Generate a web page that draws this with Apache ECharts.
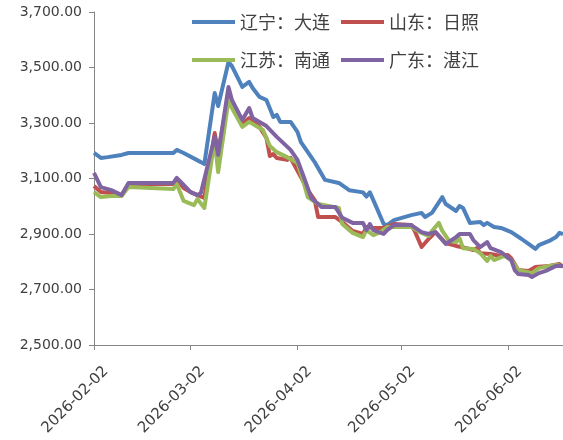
<!DOCTYPE html>
<html>
<head>
<meta charset="utf-8">
<script src="https://cdn.jsdelivr.net/npm/echarts@6/dist/echarts.min.js"></script>
<style>html,body{margin:0;padding:0;background:#fff;}#c{width:563px;height:440px;}</style>
</head>
<body>
<div id="c"></div>
<script>
const startDate = '2026-02-02';
const endDate = '2026-06-18';
const seriesNames = ['辽宁：大连', '山东：日照', '江苏：南通', '广东：湛江'];
const yTicks = [2500, 2700, 2900, 3100, 3300, 3500, 3700];

const dalian = [['2026-02-02',3192],['2026-02-04',3174],['2026-02-06',3177],['2026-02-10',3185],['2026-02-12',3192],['2026-02-25',3192],['2026-02-26',3203],['2026-02-28',3192],['2026-03-05',3159],['2026-03-06',3152],['2026-03-09',3408],['2026-03-10',3361],['2026-03-13',3520],['2026-03-14',3505],['2026-03-17',3430],['2026-03-19',3448],['2026-03-20',3426],['2026-03-22',3394],['2026-03-24',3383],['2026-03-26',3322],['2026-03-27',3329],['2026-03-28',3304],['2026-03-31',3304],['2026-04-02',3268],['2026-04-03',3231],['2026-04-07',3159],['2026-04-10',3095],['2026-04-14',3084],['2026-04-17',3058],['2026-04-21',3050],['2026-04-22',3035],['2026-04-23',3050],['2026-04-24',3022],['2026-04-27',2936],['2026-04-28',2932],['2026-04-30',2950],['2026-05-05',2968],['2026-05-08',2976],['2026-05-09',2961],['2026-05-11',2976],['2026-05-14',3033],['2026-05-15',3008],['2026-05-18',2983],['2026-05-19',3001],['2026-05-20',2994],['2026-05-22',2940],['2026-05-25',2943],['2026-05-26',2932],['2026-05-27',2940],['2026-05-29',2925],['2026-05-31',2922],['2026-06-03',2907],['2026-06-06',2882],['2026-06-08',2864],['2026-06-10',2846],['2026-06-11',2860],['2026-06-14',2875],['2026-06-16',2889],['2026-06-17',2904],['2026-06-18',2900]];

const rizhao = [['2026-02-02',3073],['2026-02-04',3051],['2026-02-07',3048],['2026-02-10',3040],['2026-02-12',3080],['2026-02-25',3080],['2026-02-26',3098],['2026-02-28',3066],['2026-03-02',3051],['2026-03-04',3040],['2026-03-06',3030],['2026-03-09',3264],['2026-03-10',3195],['2026-03-13',3401],['2026-03-14',3365],['2026-03-17',3296],['2026-03-19',3318],['2026-03-22',3286],['2026-03-24',3246],['2026-03-25',3181],['2026-03-26',3188],['2026-03-27',3174],['2026-03-30',3167],['2026-03-31',3174],['2026-04-03',3105],['2026-04-05',3058],['2026-04-07',3022],['2026-04-08',2961],['2026-04-13',2961],['2026-04-15',2943],['2026-04-18',2911],['2026-04-21',2900],['2026-04-22',2925],['2026-04-24',2922],['2026-04-27',2922],['2026-04-30',2936],['2026-05-05',2932],['2026-05-06',2911],['2026-05-08',2853],['2026-05-10',2882],['2026-05-12',2907],['2026-05-15',2867],['2026-05-18',2857],['2026-05-21',2849],['2026-05-23',2842],['2026-05-24',2849],['2026-05-25',2831],['2026-05-28',2828],['2026-05-31',2821],['2026-06-02',2824],['2026-06-03',2813],['2026-06-05',2770],['2026-06-08',2767],['2026-06-10',2781],['2026-06-14',2785],['2026-06-17',2792],['2026-06-18',2781]];

const nantong = [['2026-02-02',3051],['2026-02-04',3033],['2026-02-07',3037],['2026-02-10',3037],['2026-02-12',3069],['2026-02-25',3062],['2026-02-26',3080],['2026-02-28',3019],['2026-03-03',3004],['2026-03-04',3026],['2026-03-06',2994],['2026-03-09',3239],['2026-03-10',3123],['2026-03-13',3383],['2026-03-14',3354],['2026-03-17',3286],['2026-03-19',3304],['2026-03-23',3275],['2026-03-25',3217],['2026-03-27',3195],['2026-03-30',3177],['2026-04-02',3156],['2026-04-04',3077],['2026-04-05',3033],['2026-04-08',3008],['2026-04-14',2994],['2026-04-15',2936],['2026-04-18',2904],['2026-04-21',2889],['2026-04-22',2914],['2026-04-24',2896],['2026-04-26',2907],['2026-04-28',2925],['2026-05-05',2925],['2026-05-08',2904],['2026-05-10',2893],['2026-05-11',2911],['2026-05-13',2940],['2026-05-14',2911],['2026-05-16',2875],['2026-05-18',2871],['2026-05-19',2885],['2026-05-20',2849],['2026-05-23',2846],['2026-05-25',2831],['2026-05-27',2803],['2026-05-28',2821],['2026-05-29',2806],['2026-06-01',2821],['2026-06-03',2806],['2026-06-05',2770],['2026-06-09',2759],['2026-06-11',2777],['2026-06-14',2785],['2026-06-16',2788],['2026-06-18',2785]];

const zhanjiang = [['2026-02-02',3120],['2026-02-04',3069],['2026-02-07',3058],['2026-02-10',3040],['2026-02-12',3084],['2026-02-25',3084],['2026-02-26',3102],['2026-02-28',3077],['2026-03-02',3051],['2026-03-04',3040],['2026-03-05',3048],['2026-03-09',3250],['2026-03-10',3185],['2026-03-13',3430],['2026-03-14',3383],['2026-03-17',3311],['2026-03-19',3354],['2026-03-20',3318],['2026-03-24',3289],['2026-03-27',3250],['2026-03-31',3203],['2026-04-02',3167],['2026-04-04',3100],['2026-04-06',3030],['2026-04-09',2997],['2026-04-13',2997],['2026-04-15',2958],['2026-04-18',2940],['2026-04-21',2940],['2026-04-22',2914],['2026-04-23',2936],['2026-04-24',2914],['2026-04-27',2900],['2026-04-28',2914],['2026-04-30',2932],['2026-05-05',2932],['2026-05-08',2907],['2026-05-10',2900],['2026-05-12',2907],['2026-05-15',2864],['2026-05-18',2889],['2026-05-19',2900],['2026-05-22',2900],['2026-05-23',2878],['2026-05-25',2853],['2026-05-27',2871],['2026-05-28',2849],['2026-05-31',2835],['2026-06-03',2806],['2026-06-04',2770],['2026-06-05',2756],['2026-06-08',2752],['2026-06-09',2745],['2026-06-11',2759],['2026-06-13',2767],['2026-06-16',2785],['2026-06-18',2785]];

const colors = ['#4F81BD', '#C0504D', '#9BBB59', '#8064A2'];

// build daily category list
const categories = [];
(function(){
  const d = new Date(startDate + 'T00:00:00Z');
  const e = new Date(endDate + 'T00:00:00Z');
  while (d <= e) {
    categories.push(d.toISOString().slice(0,10));
    d.setUTCDate(d.getUTCDate() + 1);
  }
})();

const isMonthTick = (i, v) => v.slice(8) === '02';
const allData = [dalian, rizhao, nantong, zhanjiang];

const chart = echarts.init(document.getElementById('c'), null, {renderer: 'canvas'});
const legendText = {fontFamily: '"Noto Sans CJK SC"', fontSize: 18, color: '#404040'};
chart.setOption({
  animation: false,
  backgroundColor: '#fff',
  color: colors,
  grid: {left: 94, right: 0, top: 12, bottom: 95, containLabel: false, outerBoundsMode: 'none'},
  legend: [
    {data: [seriesNames[0], seriesNames[1]], left: 192, top: 13, itemGap: 11, itemWidth: 43, itemHeight: 4, icon: 'rect', textStyle: legendText, padding: 0},
    {data: [seriesNames[2], seriesNames[3]], left: 192, top: 51, itemGap: 11, itemWidth: 43, itemHeight: 4, icon: 'rect', textStyle: legendText, padding: 0}
  ],
  xAxis: {
    type: 'category',
    data: categories,
    boundaryGap: false,
    axisLine: {lineStyle: {color: '#868686', width: 1}},
    axisTick: {show: true, interval: isMonthTick, length: 5, lineStyle: {color: '#868686'}},
    axisLabel: {interval: isMonthTick, rotate: 45, margin: 12, lineHeight: 34,
      formatter: v => '\n' + v,
      fontFamily: 'DejaVu Sans', fontSize: 15, color: '#404040'},
    splitLine: {show: false}
  },
  yAxis: {
    type: 'value',
    min: yTicks[0], max: yTicks[yTicks.length-1], interval: 200,
    axisLine: {show: true, lineStyle: {color: '#868686', width: 1}},
    axisTick: {show: true, length: 5, lineStyle: {color: '#868686'}},
    axisLabel: {margin: 12, fontFamily: 'DejaVu Sans', fontSize: 14, color: '#404040',
      formatter: v => v.toLocaleString('en-US', {minimumFractionDigits: 2, maximumFractionDigits: 2})},
    splitLine: {show: false}
  },
  series: allData.map((d, i) => ({
    name: seriesNames[i],
    type: 'line',
    data: d,
    showSymbol: false,
    symbol: 'none',
    lineStyle: {width: 4, color: colors[i], join: 'round'},
    itemStyle: {color: colors[i]},
    z: 2 + i
  }))
});
</script>
</body>
</html>
